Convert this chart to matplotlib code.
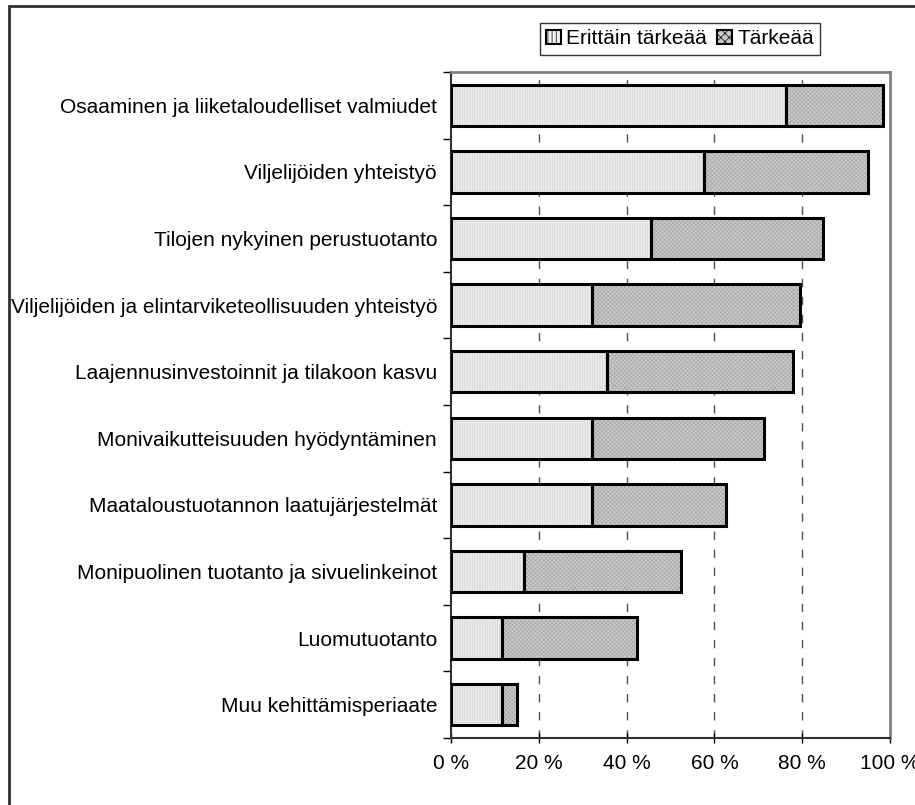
import numpy as np
import matplotlib.pyplot as plt
from matplotlib.patches import Rectangle, Patch
from matplotlib.ticker import FixedLocator

plt.rcParams['font.family'] = ['Liberation Sans', 'DejaVu Sans']
plt.rcParams['hatch.linewidth'] = 0.5

categories = ['Osaaminen ja liiketaloudelliset valmiudet',
              'Viljelijöiden yhteistyö',
              'Tilojen nykyinen perustuotanto',
              'Viljelijöiden ja elintarviketeollisuuden yhteistyö',
              'Laajennusinvestoinnit ja tilakoon kasvu',
              'Monivaikutteisuuden hyödyntäminen',
              'Maataloustuotannon laatujärjestelmät',
              'Monipuolinen tuotanto ja sivuelinkeinot',
              'Luomutuotanto',
              'Muu kehittämisperiaate']
erittain = [76.2, 57.6, 45.6, 32.2, 35.5, 32.2, 32.2, 16.7, 11.7, 11.7]
tarkea = [22.2, 37.5, 39.1, 47.4, 42.4, 39.1, 30.5, 35.8, 30.6, 3.4]
series_names = ['Erittäin tärkeää', 'Tärkeää']
xticks = [0, 20, 40, 60, 80, 100]

fs = 15

fig = plt.figure(figsize=(9.15, 8.05), dpi=100)
ax = fig.add_axes([451/915, 1-738/805, 439/915, 666/805])

y = np.arange(len(categories))[::-1]
h = 0.62

c1_face, c1_hatch = '#f2f2f2', '#d0d0d0'
c2_face, c2_hatch = '#cacaca', '#a8a8a8'

# fill with hatch, then black outline on top
ax.barh(y, erittain, height=h, color=c1_face, edgecolor=c1_hatch, hatch='|' * 10, linewidth=0, zorder=3)
ax.barh(y, tarkea, left=erittain, height=h, color=c2_face, edgecolor=c2_hatch, hatch='x' * 8, linewidth=0, zorder=3)
ax.barh(y, erittain, height=h, fill=False, edgecolor='black', linewidth=2.2, zorder=4)
ax.barh(y, tarkea, left=erittain, height=h, fill=False, edgecolor='black', linewidth=2.2, zorder=4)

ax.set_xlim(0, 100)
ax.set_ylim(-0.5, len(categories) - 0.5)
ax.set_xticks(xticks)
ax.set_xticklabels([f'{v} %' for v in xticks], fontsize=fs)
ax.tick_params(axis='x', direction='inout', length=7, width=1, pad=8)
ax.set_yticks(y)
ax.set_yticklabels(categories, fontsize=fs)
ax.tick_params(axis='y', length=0, pad=10)
ax.yaxis.set_minor_locator(FixedLocator(np.arange(-0.5, len(categories), 1)))
ax.tick_params(axis='y', which='minor', direction='out', length=6, width=1)

for v in xticks[1:-1]:
    ax.axvline(v, color='#505050', linestyle=(0, (6, 7)), linewidth=1, zorder=1)

for s in ['top', 'right']:
    ax.spines[s].set_color('#808080')
    ax.spines[s].set_linewidth(2)
for s in ['left', 'bottom']:
    ax.spines[s].set_color('#303030')
    ax.spines[s].set_linewidth(1.5)

handles = [Patch(facecolor=c1_face, edgecolor='black', hatch='||||', linewidth=1.5),
           Patch(facecolor=c2_face, edgecolor='black', hatch='xxxx', linewidth=1.5)]
leg = fig.legend(handles, series_names, loc='center', bbox_to_anchor=(680/915, 1-39/805),
                 ncol=2, fontsize=fs, frameon=True, fancybox=False, edgecolor='black',
                 handlelength=0.7, handleheight=0.7, handletextpad=0.25, columnspacing=0.5,
                 borderpad=0.3, borderaxespad=0)
leg.get_frame().set_linewidth(1)

# outer chart border (only top and left are visible in the crop)
fig.patches.append(Rectangle((9/915, -0.05), 1.1, 1-6/805+0.05, transform=fig.transFigure,
                             fill=False, edgecolor='#303030', linewidth=2))

fig.savefig('out.png', dpi=100)
